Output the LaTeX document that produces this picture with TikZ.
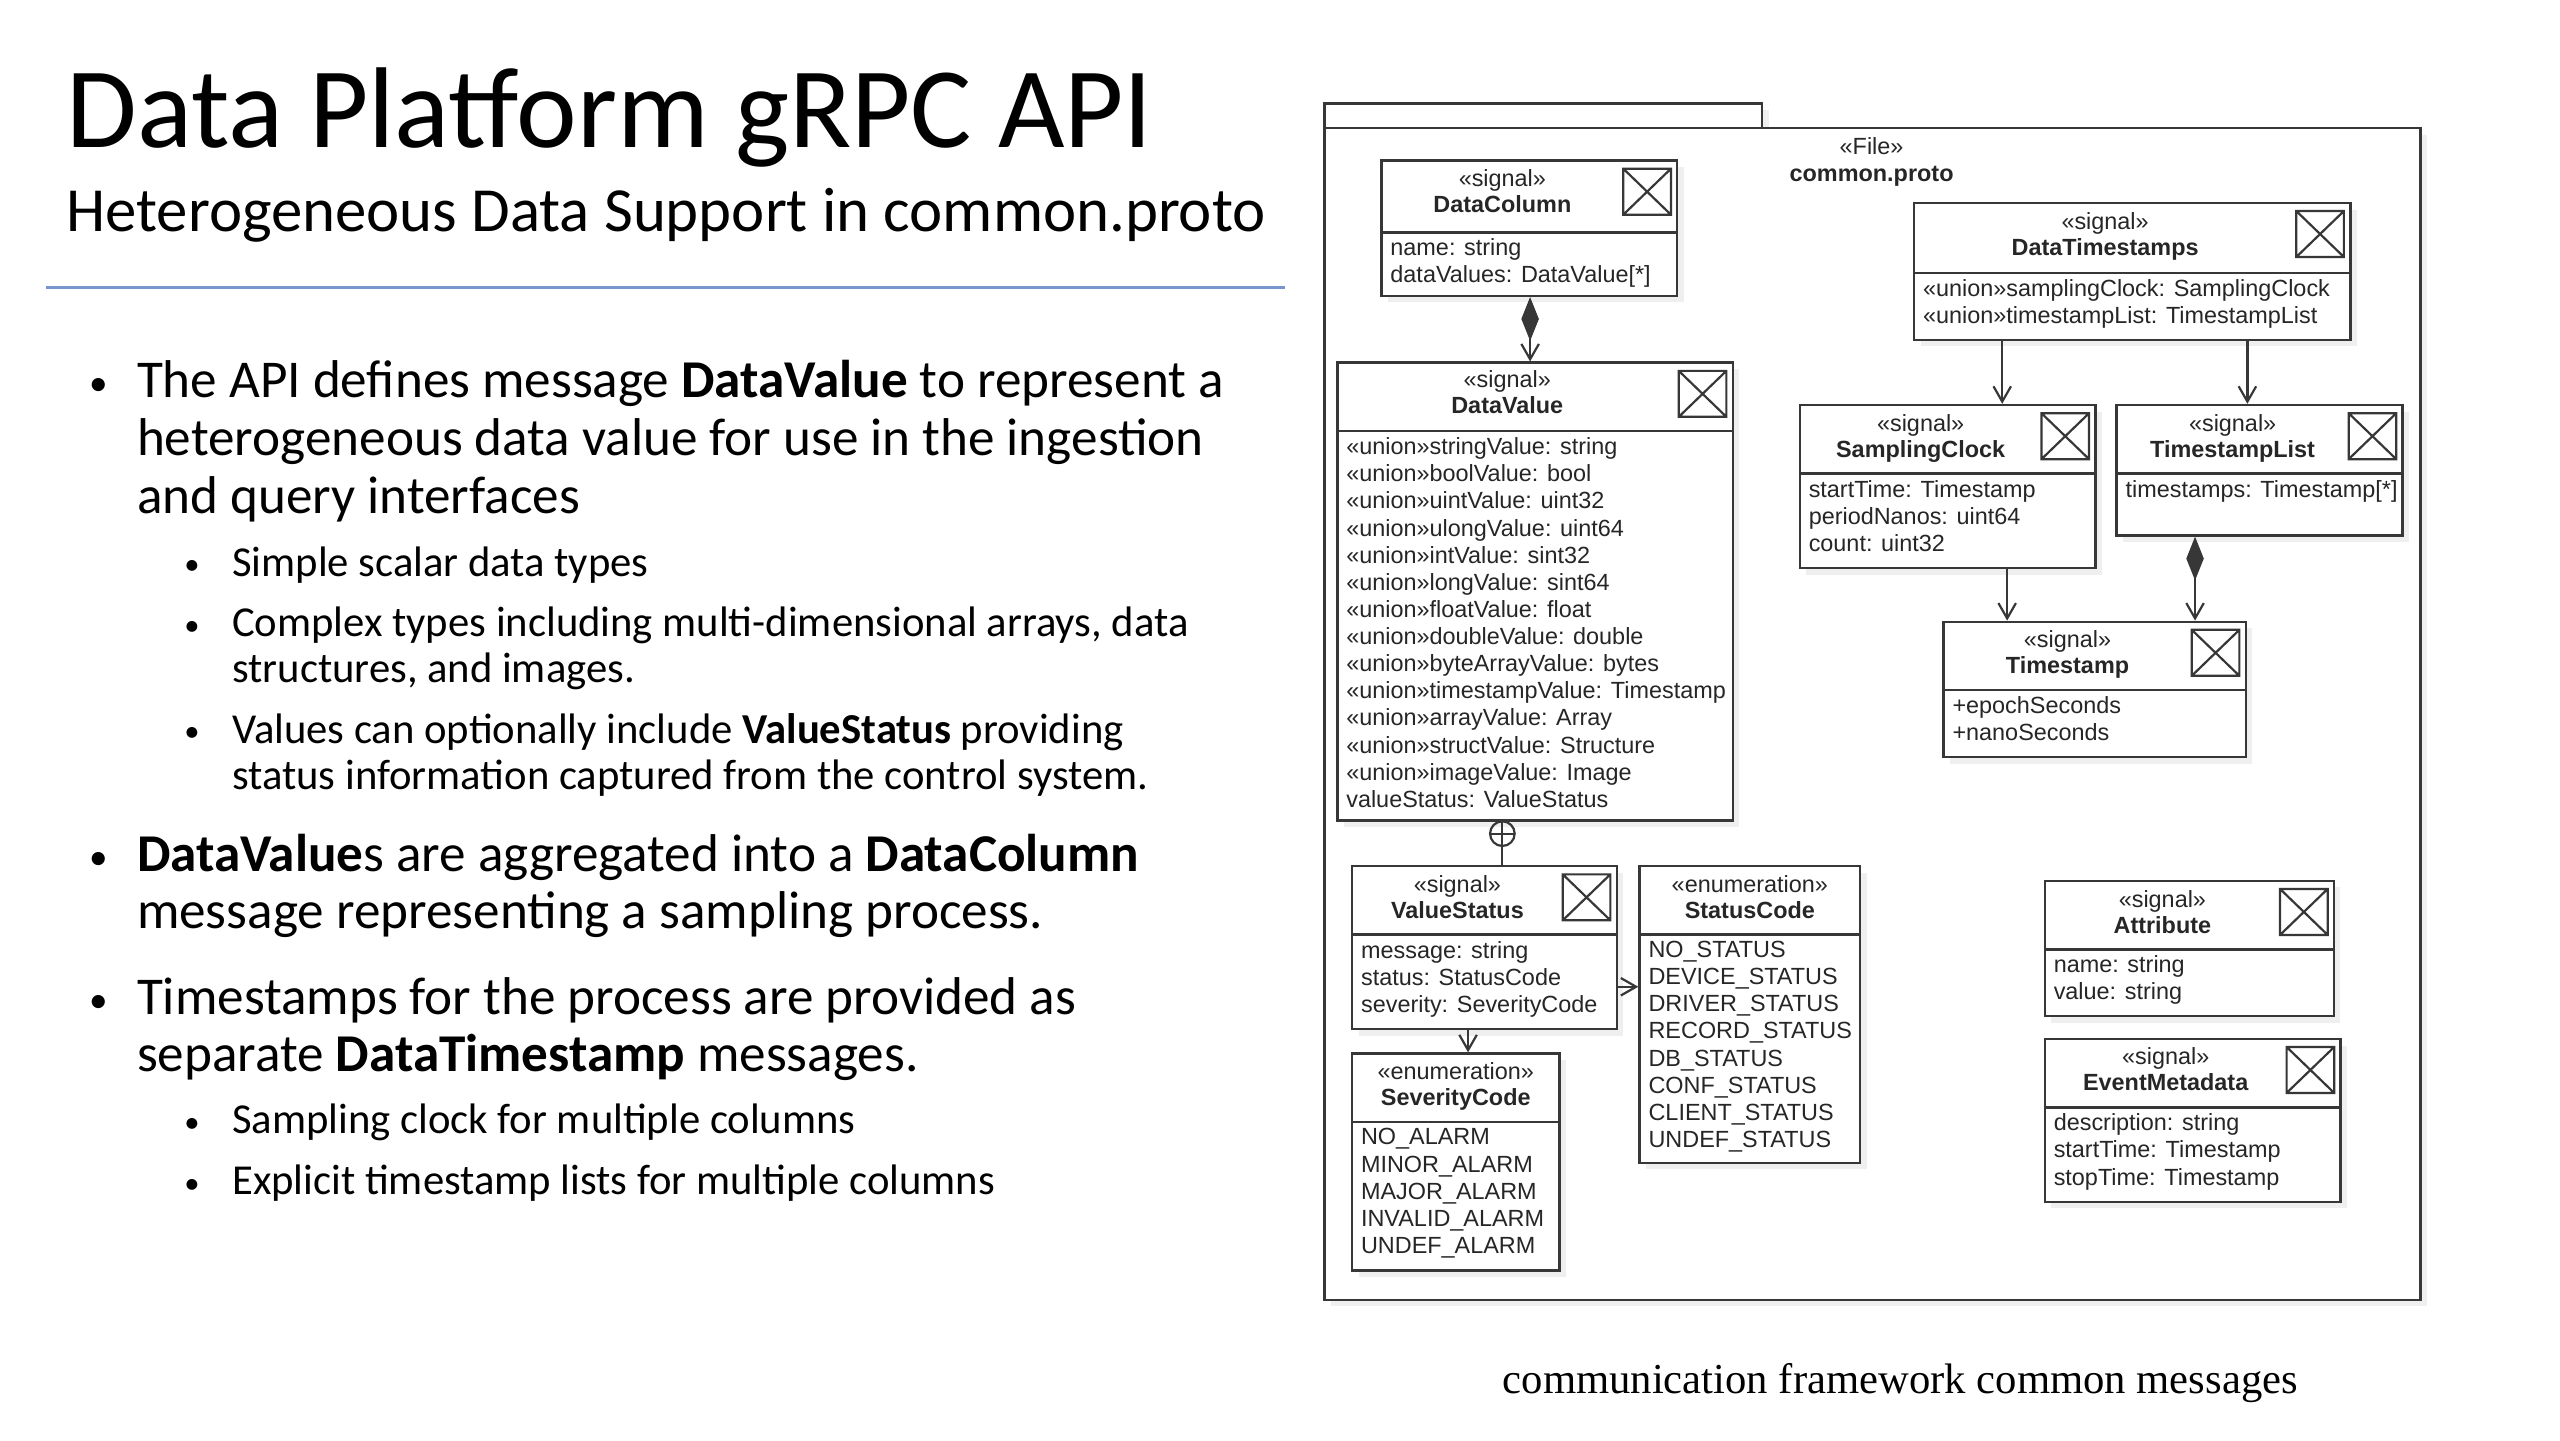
\documentclass[tikz,border=0pt]{standalone}
\usepackage{fontspec}
\setmainfont{Carlito}
\newfontfamily\umlfont{Liberation Sans}
\newfontfamily\capfont{Liberation Serif}
\usetikzlibrary{arrows.meta,fit,shadows}

\definecolor{rulecol}{RGB}{120,150,205}
\definecolor{umlline}{RGB}{55,55,55}

\tikzset{every picture/.style={line width=0.75pt}}
\tikzset{
  umlbox/.style={draw=umlline, fill=white, line width=1.1pt, inner sep=0pt,
    drop shadow={shadow xshift=3pt, shadow yshift=-3pt, fill=black!12}},
  divline/.style={draw=umlline, line width=1.1pt},
  stereo/.style={font=\umlfont\fontsize{10.7}{12.4}\selectfont, inner sep=0pt, text height=8pt, text depth=2pt, text=black!85},
  cname/.style={font=\umlfont\bfseries\fontsize{10.7}{12.4}\selectfont, inner sep=0pt, text height=8pt, text depth=2pt, text=black!85},
  attrs/.style={font=\umlfont\fontsize{10.7}{12.4}\selectfont, anchor=north west, align=left, inner sep=0pt, text=black!85},
  assoc/.style={draw=umlline, line width=1pt, -{Straight Barb[length=7pt,width=8pt]}},
  compo/.style={draw=umlline, line width=1pt, {Diamond[length=20pt,width=8pt]}-{Straight Barb[length=7pt,width=8pt]}},
  sigicon/.pic={\draw[umlline, line width=1pt] (0,0) rectangle (29,-28) (0,0) -- (29,-28) (0,-28) -- (29,0);},
  bul1/.style={font=\fontsize{17}{20}\selectfont, anchor=base, inner sep=0pt},
  bul2/.style={font=\fontsize{14}{17}\selectfont, anchor=base, inner sep=0pt},
  l1/.style={font=\fontsize{24.3}{26.25}\selectfont, anchor=base west, inner sep=0pt},
  l2/.style={font=\fontsize{19.5}{21}\selectfont, anchor=base west, inner sep=0pt},
}

\begin{document}
\begin{tikzpicture}[x=0.75pt,y=0.75pt,yscale=-1,xscale=1]
\useasboundingbox (0,0) rectangle (1560,877.5);

% Title
\node[anchor=base west, inner sep=0pt, font=\fontsize{52.5}{60}\selectfont] (title) at (40,90) {Data Platform gRPC API};
\node[anchor=base west, inner sep=0pt, font=\fontsize{28.7}{34}\selectfont] (subtitle) at (40,141) {Heterogeneous Data Support in common.proto};
%Straight Lines
\draw[rulecol, line width=1.5pt] (28,175) -- (783,175);

% Bullets
\node[bul1] (b1) at (60,241) {•};
\node[l1] (t1a) at (83,242) {The API defines message \textbf{DataValue} to represent a};
\node[l1] (t1b) at (83,277.5) {heterogeneous data value for use in the ingestion};
\node[l1] (t1c) at (83,313) {and query interfaces};
\node[bul2] (b2) at (117,350) {•};
\node[l2] (t2) at (141,351) {Simple scalar data types};
\node[bul2] (b3) at (117,387) {•};
\node[l2] (t3a) at (141,388) {Complex types including multi-dimensional arrays, data};
\node[l2] (t3b) at (141,416) {structures, and images.};
\node[bul2] (b4) at (117,452) {•};
\node[l2] (t4a) at (141,453) {Values can optionally include \textbf{ValueStatus} providing};
\node[l2] (t4b) at (141,481) {status information captured from the control system.};
\node[bul1] (b5) at (60,530) {•};
\node[l1] (t5a) at (83,531) {\textbf{DataValue}s are aggregated into a \textbf{DataColumn}};
\node[l1] (t5b) at (83,566) {message representing a sampling process.};
\node[bul1] (b6) at (60,617) {•};
\node[l1] (t6a) at (83,618) {Timestamps for the process are provided as};
\node[l1] (t6b) at (83,653) {separate \textbf{DataTimestamp} messages.};
\node[bul2] (b7) at (117,690) {•};
\node[l2] (t7) at (141,691) {Sampling clock for multiple columns};
\node[bul2] (b8) at (117,727) {•};
\node[l2] (t8) at (141,728) {Explicit timestamp lists for multiple columns};

%Shape: Package
\node[umlbox, fit={(807,63.1) (1073.8,78)}] (pkgtab) {};
\node[umlbox, fit={(807,78) (1475,792)}] (pkg) {};
\node[stereo] (pkg-s) at (1140.5,89.9) {«File»};
\node[cname] (pkg-n) at (1140.5,106.8) {common.proto};

%Shape: DataColumn
\node[umlbox, fit={(841.8,97.9) (1022,180.3)}] (dcol) {};
\draw[divline] (841.8,141.6) -- (1022,141.6);
\pic at (989.2,102.8) {sigicon};
\node[stereo] (dcol-s) at (915.5,109.8) {«signal»};
\node[cname] (dcol-n) at (915.5,125.7) {DataColumn};
\node[attrs] (dcol-a) at (846.8,145) {name: string\\dataValues: DataValue[*]};

%Shape: DataValue
\node[umlbox, fit={(815,221) (1055.9,500)}] (dval) {};
\draw[divline] (815,262.7) -- (1055.9,262.7);
\pic at (1023,226) {sigicon};
\node[stereo] (dval-s) at (918.5,231.9) {«signal»};
\node[cname] (dval-n) at (918.5,247.8) {DataValue};
\node[attrs] (dval-a) at (819.9,266.2) {«union»stringValue: string\\«union»boolValue: bool\\«union»uintValue: uint32\\«union»ulongValue: uint64\\«union»intValue: sint32\\«union»longValue: sint64\\«union»floatValue: float\\«union»doubleValue: double\\«union»byteArrayValue: bytes\\«union»timestampValue: Timestamp\\«union»arrayValue: Array\\«union»structValue: Structure\\«union»imageValue: Image\\valueStatus: ValueStatus};

%Shape: DataTimestamps
\node[umlbox, fit={(1166.4,123.7) (1432.2,207.1)}] (dts) {};
\draw[divline] (1166.4,166.4) -- (1432.2,166.4);
\pic at (1399.3,128.6) {sigicon};
\node[stereo] (dts-s) at (1282.8,135.6) {«signal»};
\node[cname] (dts-n) at (1282.8,151.5) {DataTimestamps};
\node[attrs] (dts-a) at (1171.4,169.9) {«union»samplingClock: SamplingClock\\«union»timestampList: TimestampList};

%Shape: SamplingClock
\node[umlbox, fit={(1096.7,246.8) (1276.9,346.1)}] (sclk) {};
\draw[divline] (1096.7,288.5) -- (1276.9,288.5);
\pic at (1244,251.8) {sigicon};
\node[stereo] (sclk-s) at (1170.4,258.7) {«signal»};
\node[cname] (sclk-n) at (1170.4,274.6) {SamplingClock};
\node[attrs] (sclk-a) at (1101.7,292.1) {startTime: Timestamp\\periodNanos: uint64\\count: uint32};

%Shape: TimestampList
\node[umlbox, fit={(1289.8,246.8) (1464.1,326.3)}] (tlist) {};
\draw[divline] (1289.8,288.5) -- (1464.1,288.5);
\pic at (1431.2,251.8) {sigicon};
\node[stereo] (tlist-s) at (1360.5,258.7) {«signal»};
\node[cname] (tlist-n) at (1360.5,274.6) {TimestampList};
\node[attrs] (tlist-a) at (1294.8,292.1) {timestamps: Timestamp[*]};

%Shape: Timestamp
\node[umlbox, fit={(1184.3,378.9) (1368.5,461.3)}] (tstamp) {};
\draw[divline] (1184.3,420.6) -- (1368.5,420.6);
\pic at (1335.6,383.8) {sigicon};
\node[stereo] (tstamp-s) at (1259.9,390.8) {«signal»};
\node[cname] (tstamp-n) at (1259.9,406.7) {Timestamp};
\node[attrs] (tstamp-a) at (1189.3,424.1) {+epochSeconds\\+nanoSeconds};

%Shape: ValueStatus
\node[umlbox, fit={(823.9,527.8) (985.2,627.1)}] (vstat) {};
\draw[divline] (823.9,569.5) -- (985.2,569.5);
\pic at (952.3,532.8) {sigicon};
\node[stereo] (vstat-s) at (888.1,539.7) {«signal»};
\node[cname] (vstat-n) at (888.1,555.6) {ValueStatus};
\node[attrs] (vstat-a) at (828.9,573) {message: string\\status: StatusCode\\severity: SeverityCode};

%Shape: StatusCode
\node[umlbox, fit={(999.1,527.8) (1133.5,708.6)}] (scode) {};
\draw[divline] (999.1,569.5) -- (1133.5,569.5);
\node[stereo] (scode-s) at (1066.3,539.7) {«enumeration»};
\node[cname] (scode-n) at (1066.3,555.6) {StatusCode};
\node[attrs] (scode-a) at (1004.1,573) {NO\_STATUS\\DEVICE\_STATUS\\DRIVER\_STATUS\\RECORD\_STATUS\\DB\_STATUS\\CONF\_STATUS\\CLIENT\_STATUS\\UNDEF\_STATUS};

%Shape: SeverityCode
\node[umlbox, fit={(823.9,642) (950.4,774.1)}] (sevcode) {};
\draw[divline] (823.9,683.7) -- (950.4,683.7);
\node[stereo] (sevcode-s) at (887.1,653.9) {«enumeration»};
\node[cname] (sevcode-n) at (887.1,669.8) {SeverityCode};
\node[attrs] (sevcode-a) at (828.9,687.2) {NO\_ALARM\\MINOR\_ALARM\\MAJOR\_ALARM\\INVALID\_ALARM\\UNDEF\_ALARM};

%Shape: Attribute
\node[umlbox, fit={(1246,536.8) (1422.2,619.2)}] (attr) {};
\draw[divline] (1246,578.5) -- (1422.2,578.5);
\pic at (1389.4,541.7) {sigicon};
\node[stereo] (attr-s) at (1317.7,548.7) {«signal»};
\node[cname] (attr-n) at (1317.7,564.6) {Attribute};
\node[attrs] (attr-a) at (1251,581.9) {name: string\\value: string};

%Shape: EventMetadata
\node[umlbox, fit={(1246,633.1) (1426.2,732.4)}] (evmeta) {};
\draw[divline] (1246,674.8) -- (1426.2,674.8);
\pic at (1393.4,638) {sigicon};
\node[stereo] (evmeta-s) at (1319.7,644.9) {«signal»};
\node[cname] (evmeta-n) at (1319.7,660.8) {EventMetadata};
\node[attrs] (evmeta-a) at (1251,678.2) {description: string\\startTime: Timestamp\\stopTime: Timestamp};

% Connectors
\coordinate (xa) at (932.4,0);
\coordinate (xb) at (1220.1,0);
\coordinate (xc) at (1369.5,0);
\coordinate (xd) at (1223.1,0);
\coordinate (xe) at (1337.6,0);
\coordinate (xf) at (894.6,0);
\coordinate (yg) at (0,601.3);
\coordinate (cp) at (915.5,508);
\draw[compo] (xa |- dcol.south) -- (xa |- dval.north);
\draw[assoc] (xb |- dts.south) -- (xb |- sclk.north);
\draw[assoc] (xc |- dts.south) -- (xc |- tlist.north);
\draw[assoc] (xd |- sclk.south) -- (xd |- tstamp.north);
\draw[compo] (xe |- tlist.south) -- (xe |- tstamp.north);
\draw[assoc] (xf |- vstat.south) -- (xf |- sevcode.north);
\draw[assoc] (yg -| vstat.east) -- (yg -| scode.west);
%Containment
\draw[umlline, line width=1pt] (cp) circle (7.5);
\draw[umlline, line width=1pt] ([xshift=-5.6pt]cp) -- ([xshift=5.6pt]cp);
\draw[umlline, line width=1pt] (cp |- dval.south) -- (cp |- vstat.north);

% Caption
\node[anchor=base, inner sep=0pt, font=\capfont\fontsize{19.5}{24}\selectfont] (caption) at (1158,849) {communication framework common messages};

\end{tikzpicture}
\end{document}
